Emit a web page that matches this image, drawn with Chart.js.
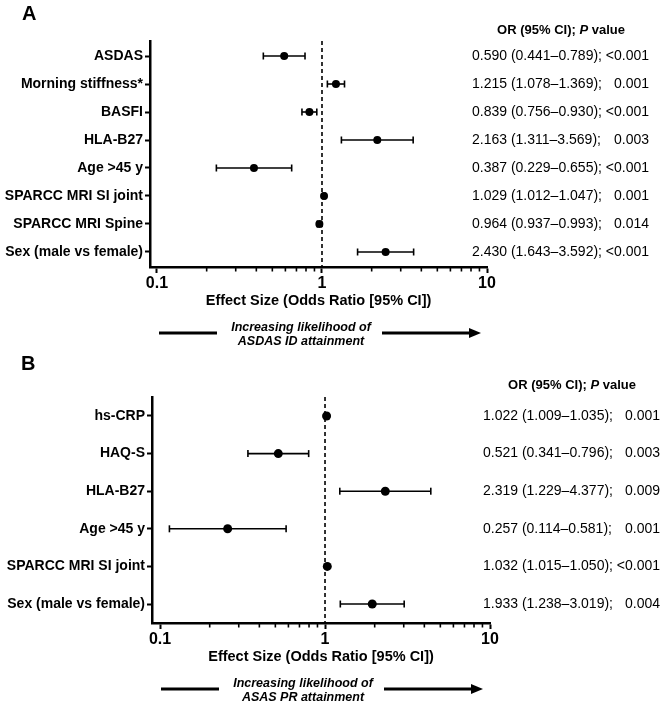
<!DOCTYPE html>
<html><head><meta charset="utf-8">
<script src="https://cdn.jsdelivr.net/npm/chart.js@4.4.0/dist/chart.umd.min.js"></script>
<style>
html,body{margin:0;padding:0;background:#fff;}
#wrap{position:relative;width:661px;height:705px;overflow:hidden;background:#fff;}
canvas{position:absolute;left:0;}
</style></head><body>
<div id="wrap">
<canvas id="cA" width="661" height="350" style="top:0;width:661px;height:350px"></canvas>
<canvas id="cB" width="661" height="355" style="top:350px;width:661px;height:355px"></canvas>
</div>
<script>
// ---------- Panel A data ----------
const catsA = ['ASDAS','Morning stiffness*','BASFI','HLA-B27','Age >45 y','SPARCC MRI SI joint','SPARCC MRI Spine','Sex (male vs female)'];
const orA = [0.590, 1.215, 0.839, 2.163, 0.387, 1.029, 0.964, 2.430];
const loA = [0.441, 1.078, 0.756, 1.311, 0.229, 1.012, 0.937, 1.643];
const hiA = [0.789, 1.369, 0.930, 3.569, 0.655, 1.047, 0.993, 3.592];
const pA  = ['<0.001','0.001','<0.001','0.003','<0.001','0.001','0.014','<0.001'];

// ---------- Panel B data ----------
const catsB = ['hs-CRP','HAQ-S','HLA-B27','Age >45 y','SPARCC MRI SI joint','Sex (male vs female)'];
const orB = [1.022, 0.521, 2.319, 0.257, 1.032, 1.933];
const loB = [1.009, 0.341, 1.229, 0.114, 1.015, 1.238];
const hiB = [1.035, 0.796, 4.377, 0.581, 1.050, 3.019];
const pB  = ['0.001','0.003','0.009','0.001','<0.001','0.004'];

// ---------- Axis ticks ----------
const xMajor = [0.1, 1, 10];
const xMajorLabels = ['0.1', '1', '10'];
const xMinor = [0.2, 0.3, 0.4, 0.5, 0.6, 0.7, 0.8, 0.9, 2, 3, 4, 5, 6, 7, 8, 9];
const refValue = 1;

const headerParts = [['OR (95% CI); ', 'bold'], ['P', 'italic bold'], [' value', 'bold']];
const xTitle = 'Effect Size (Odds Ratio [95% CI])';
const arrowTextA = ['Increasing likelihood of', 'ASDAS ID attainment'];
const arrowTextB = ['Increasing likelihood of', 'ASAS PR attainment'];

const FONT = "'Liberation Sans', Arial, Helvetica, sans-serif";
Chart.defaults.color = '#000';
Chart.defaults.font.family = FONT;

const extras = {
  id: 'extras',
  afterDraw(chart, args, o) {
    const ctx = chart.ctx, xs = chart.scales.x, ys = chart.scales.y, ca = chart.chartArea;
    ctx.save();
    ctx.strokeStyle = '#000';
    ctx.fillStyle = '#000';
    // minor log ticks
    ctx.lineWidth = 1.6;
    xMinor.forEach(v => {
      const px = xs.getPixelForValue(v);
      ctx.beginPath(); ctx.moveTo(px, ca.bottom); ctx.lineTo(px, ca.bottom + 4.5); ctx.stroke();
    });
    // value texts
    ctx.textBaseline = 'middle';
    ctx.font = '14px ' + FONT;
    o.cats.forEach((c, i) => {
      const py = ys.getPixelForValue(i);
      ctx.textAlign = 'left';
      ctx.fillText(o.or[i].toFixed(3) + ' (' + o.lo[i].toFixed(3) + '\u2013' + o.hi[i].toFixed(3) + ');', o.textX, py);
      ctx.textAlign = 'right';
      ctx.fillText(o.p[i], o.textR, py);
    });
    // header
    ctx.textAlign = 'left';
    let total = 0;
    headerParts.forEach(([t, w]) => { ctx.font = w + ' 13px ' + FONT; total += ctx.measureText(t).width; });
    let hx = o.headerCx - total / 2;
    headerParts.forEach(([t, w]) => { ctx.font = w + ' 13px ' + FONT; ctx.fillText(t, hx, o.headerY); hx += ctx.measureText(t).width; });
    // panel letter
    ctx.font = 'bold 20px ' + FONT;
    ctx.textBaseline = 'alphabetic';
    ctx.fillText(o.letter, o.letterX, o.letterY);
    // arrow
    const L = ca.left;
    const ay = ca.bottom + 66;
    ctx.lineWidth = 3;
    ctx.beginPath(); ctx.moveTo(L + 9, ay); ctx.lineTo(L + 67, ay); ctx.stroke();
    ctx.beginPath(); ctx.moveTo(L + 232, ay); ctx.lineTo(L + 320, ay); ctx.stroke();
    ctx.beginPath(); ctx.moveTo(L + 331, ay); ctx.lineTo(L + 319, ay - 5); ctx.lineTo(L + 319, ay + 5); ctx.closePath(); ctx.fill();
    ctx.font = 'italic bold 12.5px ' + FONT;
    ctx.textAlign = 'center'; ctx.textBaseline = 'middle';
    ctx.fillText(o.arrowText[0], L + 151, ca.bottom + 61);
    ctx.fillText(o.arrowText[1], L + 151, ca.bottom + 75);
    ctx.restore();
  }
};

function makePanel(canvas, d, g) {
  const H = canvas.height;
  const xAxisH = 43;
  const datasets = [];
  datasets.push({
    data: d.or.map((v, i) => ({x: v, y: i})),
    pointRadius: g.r, pointHoverRadius: g.r, backgroundColor: '#000', borderColor: '#000', borderWidth: 0, showLine: false
  });
  d.cats.forEach((c, i) => {
    datasets.push({
      data: [{x: d.lo[i], y: i}, {x: d.hi[i], y: i}],
      showLine: true, borderColor: '#000', borderWidth: 1.6,
      pointStyle: 'line', rotation: 90, pointRadius: 3.5, pointHoverRadius: 3.5,
      pointBorderColor: '#000', pointBorderWidth: 1.6, pointBackgroundColor: '#000'
    });
  });
  datasets.push({
    data: [{x: refValue, y: g.ymin}, {x: refValue, y: g.ymax}],
    showLine: true, borderColor: '#000', borderWidth: 1.6, borderDash: [4, 3], pointRadius: 0
  });
  return new Chart(canvas, {
    type: 'scatter',
    data: {datasets},
    plugins: [extras],
    options: {
      responsive: false, animation: false, devicePixelRatio: 1,
      layout: {padding: {left: 0, right: canvas.width - g.right, top: g.top, bottom: H - g.bottom - xAxisH}},
      plugins: {
        legend: {display: false}, tooltip: {enabled: false},
        extras: {cats: d.cats, or: d.or, lo: d.lo, hi: d.hi, p: d.p, textX: g.textX, textR: g.textR,
                 headerCx: g.textX + 89, headerY: g.headerY, letter: g.letter, letterX: g.letterX, letterY: g.letterY,
                 arrowText: d.arrowText}
      },
      scales: {
        x: {
          type: 'logarithmic', min: g.xmin, max: 10,
          afterBuildTicks: s => { s.ticks = xMajor.map(v => ({value: v, major: true})); },
          afterFit: s => { s.height = xAxisH; },
          ticks: {autoSkip: false, maxRotation: 0, padding: 1, font: {size: 16, weight: 'bold'}, color: '#000',
                  callback: v => { const k = xMajor.indexOf(v); return k >= 0 ? xMajorLabels[k] : ''; }},
          grid: {drawOnChartArea: false, drawTicks: true, tickLength: 6, tickWidth: 2, tickColor: '#000'},
          border: {display: true, color: '#000', width: 2.5},
          title: {display: true, text: xTitle, font: {size: 14.5, weight: 'bold'}, color: '#000', padding: 0}
        },
        y: {
          type: 'linear', reverse: true, min: g.ymin, max: g.ymax,
          afterBuildTicks: s => { s.ticks = d.cats.map((c, i) => ({value: i})); },
          afterFit: s => { s.width = g.left; },
          ticks: {autoSkip: false, padding: 2, font: {size: 14, weight: 'bold'}, color: '#000',
                  callback: v => d.cats[v]},
          grid: {drawOnChartArea: false, drawTicks: true, tickLength: 5, tickWidth: 2, tickColor: '#000'},
          border: {display: true, color: '#000', width: 2.5}
        }
      }
    }
  });
}

makePanel(document.getElementById('cA'),
  {cats: catsA, or: orA, lo: loA, hi: hiA, p: pA, arrowText: arrowTextA},
  {left: 150, right: 487, top: 41, bottom: 267, ymin: -0.536, ymax: 7.536, xmin: 0.0907, r: 4,
   textX: 472, textR: 649, headerY: 30, letter: 'A', letterX: 22, letterY: 20});

makePanel(document.getElementById('cB'),
  {cats: catsB, or: orB, lo: loB, hi: hiB, p: pB, arrowText: arrowTextB},
  {left: 152, right: 490, top: 47, bottom: 273, ymin: -0.505, ymax: 5.505, xmin: 0.0894, r: 4.5,
   textX: 483, textR: 660, headerY: 35, letter: 'B', letterX: 21, letterY: 20});
</script>
</body></html>
